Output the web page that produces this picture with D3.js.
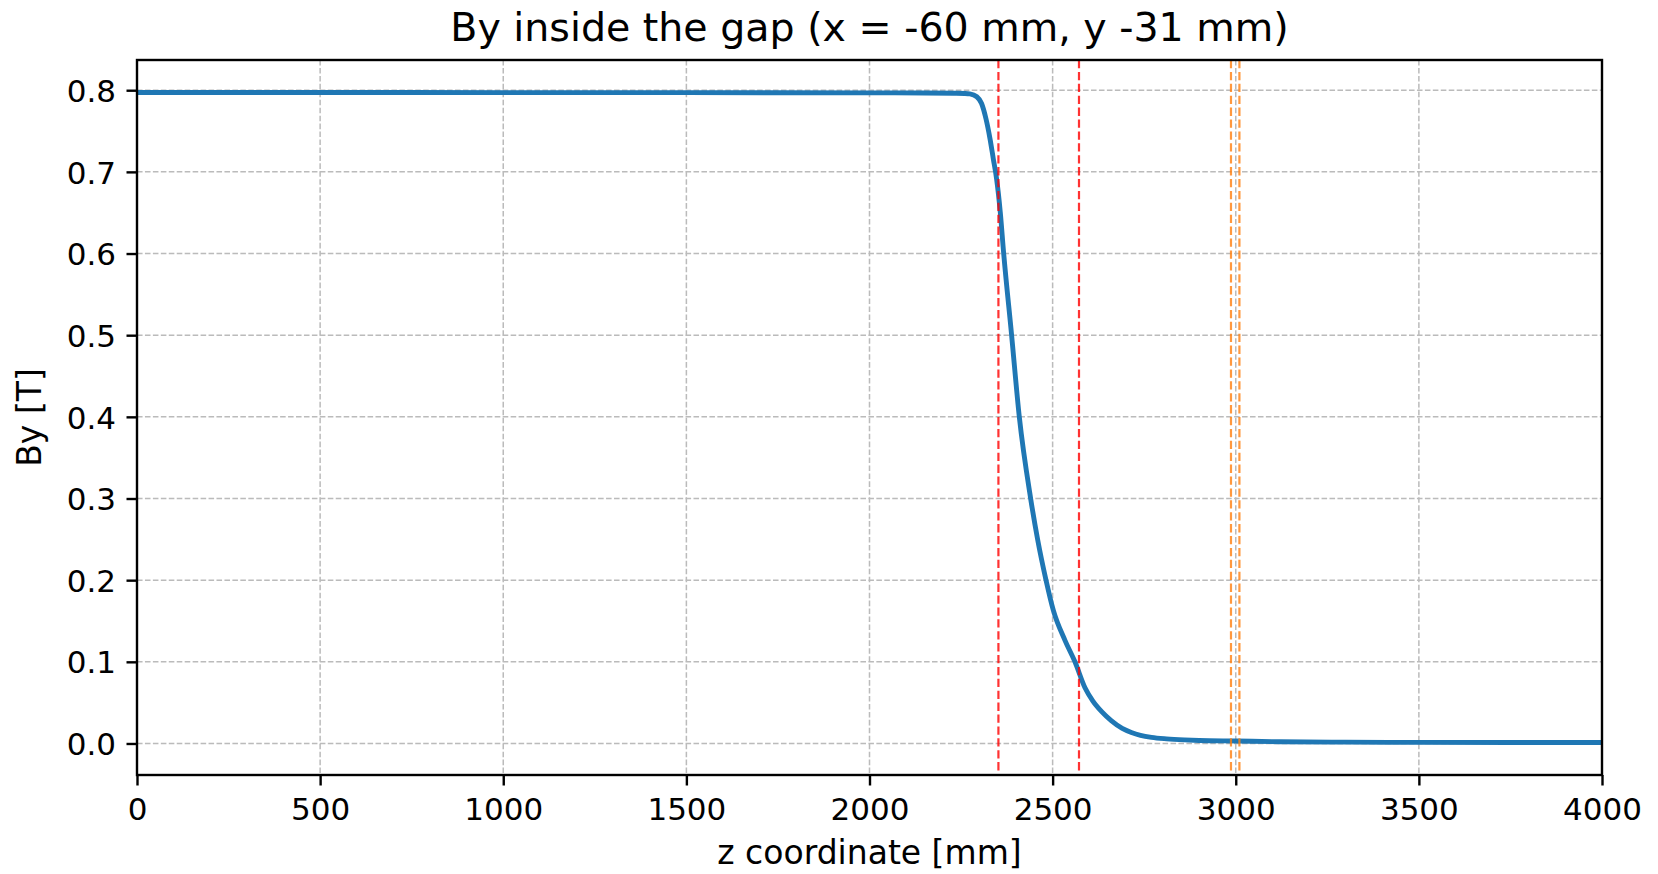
<!DOCTYPE html>
<html>
<head>
<meta charset="utf-8">
<script src="https://cdn.jsdelivr.net/npm/d3@7"></script>
<style>
  html, body { margin: 0; padding: 0; background: #ffffff; }
  svg { display: block; font-family: "DejaVu Sans", sans-serif; }
</style>
</head>
<body>
<svg id="chart" width="1658" height="874"></svg>
<script>
// Field profile along z, sampled points (z in mm, By in T)
const zValues = [0, 500, 1000, 1500, 2000, 2150, 2230, 2260, 2274, 2293, 2306, 2318, 2329, 2338, 2347, 2357, 2366,
  2388, 2409, 2440, 2459, 2482, 2502, 2534, 2561, 2588, 2610, 2634, 2660, 2690, 2715, 2740, 2770, 2811, 2860, 2900, 3000, 3120, 3300, 3500, 4000];
const byValues = [0.7972, 0.7972, 0.7971, 0.7970, 0.7968, 0.7966, 0.7963, 0.7960, 0.7955, 0.792, 0.7837, 0.765, 0.7406, 0.716, 0.6914, 0.651, 0.602,
  0.500, 0.400, 0.300, 0.250, 0.200, 0.163, 0.126, 0.100, 0.0686, 0.052, 0.039, 0.028, 0.0185, 0.0135, 0.0100, 0.0075, 0.0057, 0.0044, 0.0037, 0.0030, 0.0021, 0.0016, 0.0013, 0.0012];

// Reference positions marked with dashed vertical lines
const redMarks = [2352, 2572];
const orangeMarks = [2987, 3010];

const xTicks = [0, 500, 1000, 1500, 2000, 2500, 3000, 3500, 4000];
const yTicks = [0.0, 0.1, 0.2, 0.3, 0.4, 0.5, 0.6, 0.7, 0.8];

const titleText = "By inside the gap (x = -60 mm, y -31 mm)";
const xLabel = "z coordinate [mm]";
const yLabel = "By [T]";

const W = 1658, H = 874;
const margin = { left: 137, right: 56, top: 60, bottom: 99 };
const pw = W - margin.left - margin.right;
const ph = H - margin.top - margin.bottom;

const data = zValues.map((z, i) => ({ z, by: byValues[i] }));

// y limits with 5% padding around the data extent
const [ymin, ymax] = d3.extent(byValues);
const pad = (ymax - ymin) * 0.05;

const x = d3.scaleLinear().domain([0, 4000]).range([0, pw]);
const y = d3.scaleLinear().domain([ymin - pad, ymax + pad]).range([ph, 0]);

const svg = d3.select("#chart");
svg.append("defs").append("clipPath").attr("id", "plotclip")
  .append("rect").attr("width", pw).attr("height", ph);

const g = svg.append("g").attr("transform", `translate(${margin.left},${margin.top})`);

// grid
const grid = g.append("g").attr("stroke", "#b0b0b0").attr("stroke-width", 1.5)
  .attr("stroke-dasharray", "5.55,2.4").attr("opacity", 0.85);
grid.selectAll("line.vx").data(xTicks).join("line")
  .attr("x1", d => x(d)).attr("x2", d => x(d)).attr("y1", 0).attr("y2", ph);
grid.selectAll("line.hy").data(yTicks).join("line")
  .attr("x1", 0).attr("x2", pw).attr("y1", d => y(d)).attr("y2", d => y(d));

// field curve
const line = d3.line().x(d => x(d.z)).y(d => y(d.by)).curve(d3.curveMonotoneX);
g.append("path").datum(data)
  .attr("clip-path", "url(#plotclip)")
  .attr("fill", "none").attr("stroke", "#1f77b4").attr("stroke-width", 4.9)
  .attr("stroke-linejoin", "round").attr("stroke-linecap", "square")
  .attr("d", line);

// vertical markers
function vmarks(values, color) {
  g.append("g").selectAll("line").data(values).join("line")
    .attr("x1", d => x(d)).attr("x2", d => x(d)).attr("y1", 0).attr("y2", ph)
    .attr("stroke", color).attr("stroke-width", 2.2).attr("opacity", 0.8)
    .attr("stroke-dasharray", "8.3,3.6");
}
vmarks(redMarks, "#ff0000");
vmarks(orangeMarks, "#ff7f0e");

// axes
const xAxis = d3.axisBottom(x).tickValues(xTicks).tickFormat(d3.format("d")).tickSize(10.5).tickPadding(10.5);
const yAxis = d3.axisLeft(y).tickValues(yTicks).tickFormat(d3.format(".1f")).tickSize(10.5).tickPadding(10.5);

const gx = g.append("g").attr("transform", `translate(0,${ph})`).call(xAxis);
const gy = g.append("g").call(yAxis);
[gx, gy].forEach(a => {
  a.select(".domain").remove();
  a.selectAll(".tick line").attr("stroke", "#000").attr("stroke-width", 2.4);
  a.selectAll(".tick text").attr("fill", "#000").attr("font-size", 31)
    .attr("font-family", "DejaVu Sans, sans-serif");
});
gx.selectAll(".tick text").attr("dy", "0.76em");
gy.selectAll(".tick text").attr("dy", "0.36em");

// frame
g.append("rect").attr("width", pw).attr("height", ph)
  .attr("fill", "none").attr("stroke", "#000").attr("stroke-width", 2.4);

// texts
svg.append("text").attr("x", margin.left + pw / 2).attr("y", 41)
  .attr("text-anchor", "middle").attr("font-size", 39.5).attr("fill", "#000")
  .text(titleText);
svg.append("text").attr("x", margin.left + pw / 2).attr("y", 864)
  .attr("text-anchor", "middle").attr("font-size", 33).attr("fill", "#000")
  .text(xLabel);
svg.append("text")
  .attr("transform", `translate(41,${margin.top + ph / 2}) rotate(-90)`)
  .attr("text-anchor", "middle").attr("font-size", 33).attr("fill", "#000")
  .text(yLabel);
</script>
</body>
</html>
